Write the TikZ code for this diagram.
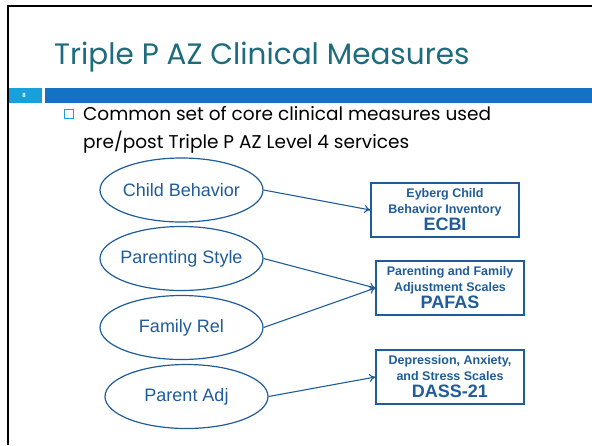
\documentclass[tikz,border=0pt]{standalone}
\usepackage{fontspec}
\setmainfont{Liberation Sans}
\newfontfamily\gothic{Poppins}
\usetikzlibrary{shapes.geometric,arrows.meta}
\definecolor{titleteal}{HTML}{1D6B7D}
\definecolor{darkbar}{HTML}{1372C4}
\definecolor{lightbar}{HTML}{17A0DC}
\definecolor{shapeblue}{HTML}{1F5C99}
\tikzset{
  oval/.style={ellipse, draw=shapeblue, line width=1.2pt, text=shapeblue,
    minimum width=163pt, minimum height=64pt, inner sep=0pt,
    font=\fontsize{18}{21}\selectfont},
  measure/.style={rectangle, draw=shapeblue, line width=1.3pt, text=shapeblue,
    minimum width=148pt, minimum height=54pt, inner sep=0pt, align=center,
    font=\fontsize{12.5}{16}\selectfont\bfseries},
  link/.style={draw=shapeblue, line width=1.1pt, -{To[length=6pt,width=8pt]}},
}
\newcommand{\bigline}[1]{{\fontsize{18}{20}\selectfont #1}}
\newcommand{\nowidth}[1]{\makebox[0pt]{#1}}
\begin{document}
\begin{tikzpicture}[x=1pt,y=-1pt]
\useasboundingbox (0,0) rectangle (592,445);
% frame
\draw[line width=2.5pt, black] (8,445) -- (8,6) -- (592,6);
% title
\node[anchor=base west, inner sep=0pt, text=titleteal, font=\gothic\fontsize{29.5}{34}\selectfont] (title) at (54,64) {Triple P AZ Clinical Measures};
% bars
\fill[lightbar] (9,88) rectangle (42,103);
\fill[darkbar] (45,88) rectangle (592,103);
\node[text=white, font=\bfseries\fontsize{6}{7}\selectfont] (num) at (24,95.5) {8};
% bullet
\draw[lightbar, line width=1pt] (64.5,109.5) rectangle (73,118.5);
\node[anchor=base west, inner sep=0pt, font=\gothic\fontsize{18.5}{22}\selectfont] (l1) at (83,120) {Common set of core clinical measures used};
\node[anchor=base west, inner sep=0pt, font=\gothic\fontsize{18.5}{22}\selectfont] (l2) at (83,148) {pre/post Triple P AZ Level 4 services};
% ovals
\node[oval] (cb) at (181.5,190) {\nowidth{Child Behavior}};
\node[oval] (ps) at (181.5,258.5) {\nowidth{Parenting Style}};
\node[oval] (fr) at (181.5,327.5) {\nowidth{Family Rel}};
\node[oval] (pa) at (186.5,396.5) {\nowidth{Parent Adj}};
% boxes
\node[measure] (ecbi) at (445,210) {Eyberg Child\\Behavior Inventory\\[1pt]\bigline{ECBI}};
\node[measure] (pafas) at (450,288) {Parenting and Family\\Adjustment Scales\\[1pt]\bigline{PAFAS}};
\node[measure] (dass) at (450,377) {Depression, Anxiety,\\and Stress Scales\\[1pt]\bigline{DASS-21}};
% links
\draw[link] (cb.east) -- (ecbi.west);
\draw[link] (ps.east) -- (pafas.west);
\draw[link] (fr.east) -- (pafas.west);
\draw[link] (pa.east) -- (dass.west);
\end{tikzpicture}
\end{document}
